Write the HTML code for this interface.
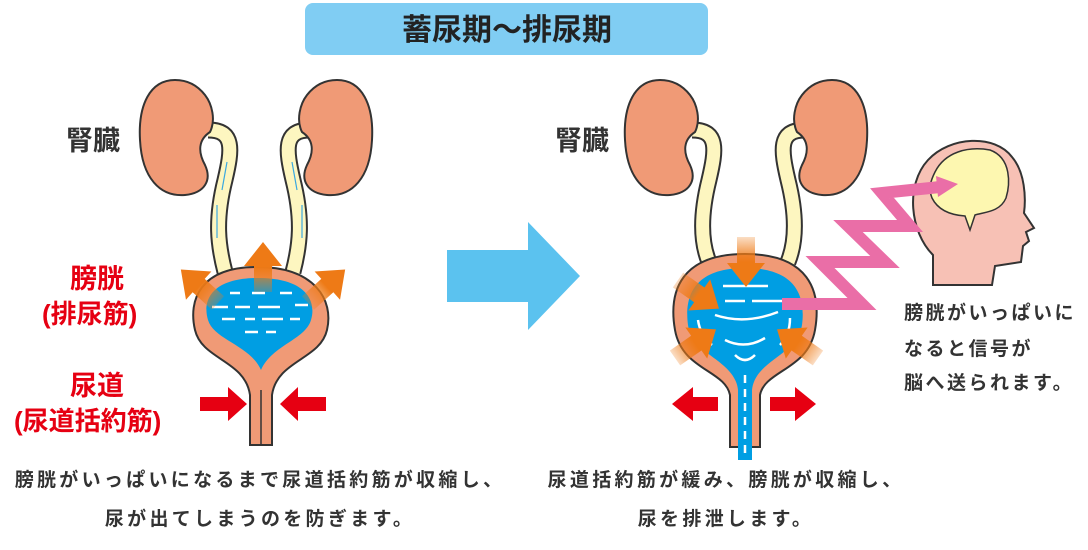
<!DOCTYPE html>
<html><head><meta charset="utf-8"><style>
body{margin:0;background:#fff;width:1088px;height:550px;overflow:hidden}
svg{display:block}
text{font-family:"Liberation Sans","Noto Sans CJK JP",sans-serif;font-weight:bold}
</style></head><body>
<svg width="1088" height="550" viewBox="0 0 1088 550">
<defs>
<g id="kidL"><path d="M175 80 C150 80 138 105 140 140 C142 178 160 197 185 195 C205 193 212 180 205 165 C198 152 198 140 210 132 C216 120 212 104 205 95 C198 86 188 80 175 80Z" fill="#f09a76" stroke="#333" stroke-width="2"/></g>
<linearGradient id="og" x1="0" y1="0" x2="0" y2="1"><stop offset="0.5" stop-color="#ee7a16"/><stop offset="1" stop-color="#ee7a16" stop-opacity="0.25"/></linearGradient>
<path id="arr" d="M-9 0 L-9 -26 L-19 -26 L0 -50 L19 -26 L9 -26 L9 0Z" fill="url(#og)"/>
</defs>
<rect x="305" y="3" width="403" height="52" rx="8" fill="#80cdf3"/>
<text x="507" y="40" font-size="30" text-anchor="middle" fill="#222">蓄尿期〜排尿期</text>

<!-- LEFT -->
<text x="66" y="150" font-size="27" fill="#333">腎臓</text>
<text x="70" y="288" font-size="27" fill="#e60012">膀胱</text>
<text x="42" y="323" font-size="26" fill="#e60012">(排尿筋)</text>
<text x="70" y="395" font-size="27" fill="#e60012">尿道</text>
<text x="14" y="430" font-size="26" fill="#e60012">(尿道括約筋)</text>
<path d="M208 130 C235 130 232 150 225 180 C215 220 218 245 225 272" fill="none" stroke="#333" stroke-width="17"/>
<path d="M208 130 C235 130 232 150 225 180 C215 220 218 245 225 272" fill="none" stroke="#fdf6c0" stroke-width="13"/>
<path d="M310 130 C283 130 286 150 293 180 C303 220 300 245 293 272" fill="none" stroke="#333" stroke-width="17"/>
<path d="M310 130 C283 130 286 150 293 180 C303 220 300 245 293 272" fill="none" stroke="#fdf6c0" stroke-width="13"/>
<g stroke="#3aa8e0" stroke-width="1.2" fill="none"><path d="M227 162 L222 190"/><path d="M217 205 L217 238"/><path d="M292 162 L297 190"/><path d="M302 205 L302 238"/></g>
<use href="#kidL"/>
<use href="#kidL" transform="translate(512 0) scale(-1 1)"/>
<path d="M257 267 C200 267 188 300 195 330 C202 360 245 360 250 395 L250 445 L272 445 L272 395 C277 360 320 360 327 330 C334 300 315 267 257 267Z" fill="#f09a76" stroke="#333" stroke-width="2"/>
<line x1="261" y1="390" x2="261" y2="445" stroke="#333" stroke-width="1.5"/>
<path d="M258 278 C212 278 202 300 208 320 C214 340 250 345 261 370 C272 345 305 340 311 320 C317 300 305 278 258 278Z" fill="#009ee3"/>
<g stroke="#fff" stroke-width="2.5"><line x1="230" y1="293" x2="240" y2="293"/><line x1="252" y1="293" x2="265" y2="293"/><line x1="280" y1="293" x2="292" y2="293"/><line x1="212" y1="307" x2="228" y2="307"/><line x1="235" y1="307" x2="250" y2="307"/><line x1="258" y1="307" x2="280" y2="307"/><line x1="295" y1="305" x2="308" y2="305"/><line x1="222" y1="319" x2="235" y2="319"/><line x1="245" y1="319" x2="255" y2="319"/><line x1="262" y1="319" x2="283" y2="319"/><line x1="290" y1="319" x2="300" y2="319"/><line x1="245" y1="332" x2="258" y2="332"/><line x1="266" y1="332" x2="276" y2="332"/></g>
<use href="#arr" transform="translate(263 292)"/>
<use href="#arr" transform="translate(218 303) rotate(-48)"/>
<use href="#arr" transform="translate(308 303) rotate(48)"/>
<path d="M200 397 L228 397 L228 387 L247 404 L228 421 L228 411 L200 411Z" fill="#e60012"/>
<path d="M326 397 L298 397 L298 387 L280 404 L298 421 L298 411 L326 411Z" fill="#e60012"/>

<path d="M447 250 L528 250 L528 222 L580 276 L528 330 L528 302 L447 302Z" fill="#5bc2ef"/>

<!-- RIGHT -->
<text x="555" y="150" font-size="27" fill="#333">腎臓</text>
<path d="M692 130 C719 130 716 150 709 180 C699 220 702 245 709 262" fill="none" stroke="#333" stroke-width="17"/>
<path d="M692 130 C719 130 716 150 709 180 C699 220 702 245 709 262" fill="none" stroke="#fdf6c0" stroke-width="13"/>
<path d="M805 130 C778 130 781 150 788 180 C798 220 795 245 788 262" fill="none" stroke="#333" stroke-width="17"/>
<path d="M805 130 C778 130 781 150 788 180 C798 220 795 245 788 262" fill="none" stroke="#fdf6c0" stroke-width="13"/>
<use href="#kidL" transform="translate(485 0)"/>
<use href="#kidL" transform="translate(1007 0) scale(-1 1)"/>
<path d="M745 254 C682 254 668 290 675 330 C682 370 725 370 730 395 L730 447 L760 447 L760 395 C765 370 808 370 815 330 C822 290 808 254 745 254Z" fill="#f09a76" stroke="#333" stroke-width="2"/>
<path d="M745 268 C695 268 684 295 688 325 C692 355 735 360 738 390 L738 460 L752 460 L752 390 C755 360 798 355 802 325 C806 295 795 268 745 268Z" fill="#009ee3"/>
<g stroke="#fff" stroke-width="2.5" fill="none"><line x1="723" y1="286" x2="768" y2="286"/><line x1="725" y1="301" x2="745" y2="301"/><line x1="752" y1="301" x2="785" y2="301"/><path d="M715 315 Q745 325 778 312"/><path d="M698 320 Q700 335 712 345"/><path d="M790 318 Q790 335 780 345"/><path d="M725 340 Q745 350 765 338"/><path d="M735 355 Q745 365 755 355"/><line x1="745" y1="375" x2="745" y2="455" stroke-dasharray="8 6"/></g>
<use href="#arr" transform="translate(746 237) rotate(180)"/>
<use href="#arr" transform="translate(678 280) rotate(125)"/>
<use href="#arr" transform="translate(675 358) rotate(55)"/>
<use href="#arr" transform="translate(818 358) rotate(-55)"/>
<path d="M718 397 L693 397 L693 387 L672 404 L693 421 L693 411 L718 411Z" fill="#e60012"/>
<path d="M770 397 L795 397 L795 387 L816 404 L795 421 L795 411 L770 411Z" fill="#e60012"/>
<!-- head -->
<path d="M933 285 L933 255 C910 232 905 185 928 160 C950 136 995 134 1012 157 C1025 172 1026 198 1024 213 L1034 228 L1026 232 L1029 241 L1023 246 L1021 262 L995 266 L992 285Z" fill="#f7c1b5" stroke="#333" stroke-width="2"/>
<path d="M935 172 C945 152 968 146 990 150 C1012 158 1010 185 1006 198 C1000 212 985 212 975 215 L970 230 L965 216 C950 215 938 210 932 198 C928 188 931 180 935 172Z" fill="#fdf7b0" stroke="#333" stroke-width="1.5"/>
<!-- zigzag -->
<path d="M782 304 L862 304 L820 262 L885 262 L848 226 L910 226 L882 193 L940 187" fill="none" stroke="#ea6ea7" stroke-width="12" stroke-linejoin="miter" stroke-miterlimit="3"/>
<path d="M936 176 L958 184 L938 197Z" fill="#ea6ea7"/>
<g font-size="19" fill="#333" letter-spacing="2.5">
<text x="904" y="319">膀胱がいっぱいに</text>
<text x="904" y="355">なると信号が</text>
<text x="904" y="389">脳へ送られます。</text>
</g>
<g font-size="19" fill="#333" letter-spacing="3.3" text-anchor="middle" style="font-weight:500">
<text x="260" y="486">膀胱がいっぱいになるまで尿道括約筋が収縮し、</text>
<text x="260" y="525">尿が出てしまうのを防ぎます。</text>
<text x="726" y="486">尿道括約筋が緩み、膀胱が収縮し、</text>
<text x="726" y="525">尿を排泄します。</text>
</g>
</svg>
</body></html>
